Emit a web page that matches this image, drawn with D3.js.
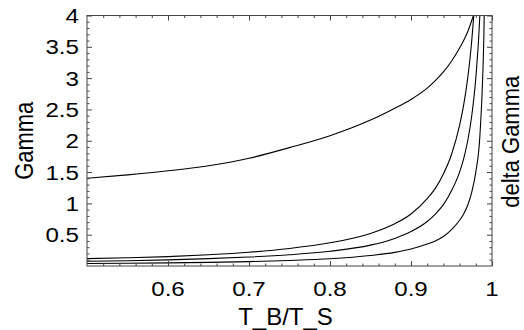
<!DOCTYPE html>
<html><head><meta charset="utf-8">
<script src="https://cdn.jsdelivr.net/npm/d3@7"></script>
<style>html,body{margin:0;padding:0;background:#fff;} svg{display:block;}</style>
</head><body><svg id="c" width="524" height="330"></svg>
<script>
// ---- data ----
const xValues = [0.5,0.55,0.6,0.65,0.7,0.75,0.8,0.85,0.88,0.9,0.92,0.93,0.94,0.95,0.96,0.965,0.97,0.975,0.98,0.985,0.99,0.995];
const gammaCurve = [1.40,1.455,1.52,1.60,1.72,1.89,2.08,2.33,2.52,2.66,2.84,2.96,3.10,3.27,3.48,3.60,3.74,3.92,4.12,4.40,4.8,5.5];
const deltaA = [0.117,0.131,0.150,0.180,0.22,0.28,0.37,0.52,0.675,0.83,1.075,1.24,1.47,1.78,2.25,2.57,3.0,3.6,4.5,5.8,8,12];
const deltaB = [0.075,0.084,0.0975,0.117,0.143,0.18,0.235,0.333,0.44,0.55,0.71,0.83,0.98,1.2,1.5,1.71,2.0,2.4,3.0,4.0,6,12];
const deltaC = [0.04,0.044,0.05,0.058,0.07,0.088,0.115,0.167,0.217,0.27,0.35,0.40,0.47,0.58,0.73,0.83,0.97,1.18,1.5,2.07,3.7,8];
const xTickValues = [0.6,0.7,0.8,0.9,1];
const xTickLabels = ["0.6","0.7","0.8","0.9","1"];
const yTickValues = [0.5,1,1.5,2,2.5,3,3.5,4];
const yTickLabels = ["0.5","1","1.5","2","2.5","3","3.5","4"];
const xTitle = "T_B/T_S", yTitle = "Gamma", y2Title = "delta Gamma";

// ---- layout ----
const pL=87, pR=492, pT=15.5, pB=266;
const x = d3.scaleLinear().domain([0.5,1]).range([pL,pR]);
const y = d3.scaleLinear().domain([0,4]).range([pB,pT]);
const svg = d3.select("#c");
const font = "'Liberation Sans', Arial, Helvetica, sans-serif";

svg.append("clipPath").attr("id","clip").append("rect")
  .attr("x",pL).attr("y",pT).attr("width",pR-pL).attr("height",pB-pT);

const line = d3.line().x(d=>x(d[0])).y(d=>y(d[1])).curve(d3.curveMonotoneX);
[gammaCurve, deltaA, deltaB, deltaC].forEach(s=>{
  svg.append("path").attr("clip-path","url(#clip)")
    .attr("d", line(xValues.map((v,i)=>[v,s[i]])))
    .attr("fill","none").attr("stroke","#000").attr("stroke-width",1.1);
});

// ticks (inward, on all four sides)
const xMinor = d3.range(0.52,0.999,0.02).filter(v=>!xTickValues.some(t=>Math.abs(t-v)<1e-6));
const yMinor = d3.range(0.1,3.999,0.1).filter(v=>!yTickValues.some(t=>Math.abs(t-v)<1e-6));
function tickAxis(axis, vals, size, tr){
  const g = svg.append("g").attr("transform",tr)
    .call(axis.tickValues(vals).tickSize(-size).tickFormat(""));
  g.select(".domain").remove();
  g.selectAll("line").attr("stroke","#444").attr("stroke-width",1);
}
tickAxis(d3.axisBottom(x), xTickValues, 5, `translate(0,${pB})`);
tickAxis(d3.axisBottom(x), xMinor, 2.5, `translate(0,${pB})`);
tickAxis(d3.axisTop(x), xTickValues, 5, `translate(0,${pT})`);
tickAxis(d3.axisTop(x), xMinor, 2.5, `translate(0,${pT})`);
tickAxis(d3.axisLeft(y), yTickValues, 5, `translate(${pL},0)`);
tickAxis(d3.axisLeft(y), yMinor, 2.5, `translate(${pL},0)`);
tickAxis(d3.axisRight(y), yTickValues, 5, `translate(${pR},0)`);
tickAxis(d3.axisRight(y), yMinor, 2.5, `translate(${pR},0)`);

svg.append("rect").attr("x",pL).attr("y",pT).attr("width",pR-pL).attr("height",pB-pT)
  .attr("fill","none").attr("stroke","#444").attr("stroke-width",1);

// tick labels
const sx = 1.15;
xTickValues.forEach((v,i)=>{
  svg.append("text").attr("transform",`translate(${x(v)},296) scale(${sx},1)`)
    .attr("text-anchor","middle").attr("font-family",font).attr("font-size",21).text(xTickLabels[i]);
});
yTickValues.forEach((v,i)=>{
  svg.append("text").attr("transform",`translate(79,${y(v)}) scale(${sx},1)`)
    .attr("text-anchor","end").attr("dy","0.36em").attr("font-family",font).attr("font-size",21).text(yTickLabels[i]);
});

// titles
svg.append("text").attr("transform",`translate(${(pL+pR)/2 - 4},325)`)
  .attr("text-anchor","middle").attr("font-family",font).attr("font-size",24).text(xTitle);
svg.append("text").attr("transform",`translate(33,${(pT+pB)/2}) rotate(-90) scale(1,1.15)`)
  .attr("text-anchor","middle").attr("font-family",font).attr("font-size",22).text(yTitle);
svg.append("text").attr("transform",`translate(519,${(pT+pB)/2 + 1}) rotate(-90) scale(1,1.1)`)
  .attr("text-anchor","middle").attr("font-family",font).attr("font-size",22).text(y2Title);
</script></body></html>
